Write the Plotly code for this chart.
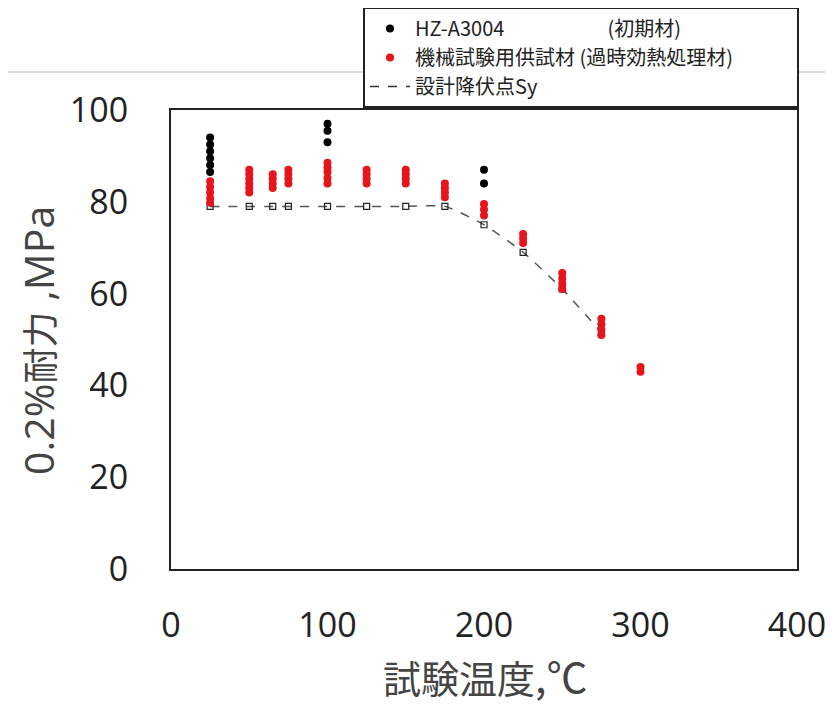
import plotly.graph_objects as go

# HZ-A3004 (initial material)
hz_x = [25, 25, 25, 25, 25, 25, 100, 100, 100, 200, 200]
hz_y = [94, 92.5, 91, 89.5, 88, 86.5, 97, 95.5, 93, 87, 84]

# Aged test material
red_x = [25, 25, 25, 25, 25,
         50, 50, 50, 50, 50, 50,
         65, 65, 65, 65,
         75, 75, 75, 75,
         100, 100, 100, 100, 100,
         125, 125, 125, 125,
         150, 150, 150, 150,
         175, 175, 175, 175,
         200, 200, 200,
         225, 225, 225,
         250, 250, 250, 250,
         275, 275, 275, 275,
         300, 300]
red_y = [84.5, 83.2, 82, 80.8, 79.8,
         87, 86, 85, 84, 83, 82,
         86, 85, 84, 83,
         87, 86, 85, 84,
         88.5, 87.5, 86.5, 85.2, 84,
         87, 86, 85, 84,
         87, 86, 85, 84,
         84, 83, 82, 81,
         79.5, 78.3, 77,
         73, 72, 71,
         64.5, 63.3, 62.2, 61,
         54.5, 53.3, 52.2, 51,
         44, 43]

# Design yield point Sy
sy_x = [25, 50, 65, 75, 100, 125, 150, 175, 200, 225, 250, 275]
sy_y = [79, 79, 79, 79, 79, 79, 79, 79, 75, 69, 61, 51.5]

x_ticks = [0, 100, 200, 300, 400]
y_ticks = [0, 20, 40, 60, 80, 100]

NB = "\u00a0"
name_hz = "HZ-A3004" + NB * 23 + "(初期材)"
name_red = "機械試験用供試材" + NB + "(過時効熱処理材)" + NB * 13
name_sy = "設計降伏点Sy"

jp = "Noto Sans CJK JP"
num = "Open Sans"

OFF = 8  # page body margin in the browser
W, H = 833 - OFF, 704 - OFF
L, R, T, B = 171 - OFF, 797 - OFF, 110 - OFF, 569 - OFF
pw, ph = R - L, B - T


def px(xp):
    return (xp - OFF - L) / pw


def py(yp):
    return (B - (yp - OFF)) / ph


fig = go.Figure()
fig.add_trace(go.Scatter(
    x=sy_x, y=sy_y, mode="lines+markers", showlegend=False,
    line=dict(color="#555555", width=1.5, dash="dash", shape="spline", smoothing=0.6),
    marker=dict(symbol="square-open", size=6, color="#222222", line=dict(width=1.2)),
))
fig.add_trace(go.Scatter(
    x=hz_x, y=hz_y, mode="markers", name=name_hz,
    marker=dict(color="black", size=8, symbol="circle"),
))
fig.add_trace(go.Scatter(
    x=red_x, y=red_y, mode="markers", name=name_red,
    marker=dict(color="#e8141b", size=8, symbol="circle"),
))
fig.add_trace(go.Scatter(
    x=[None], y=[None], mode="lines", name=name_sy,
    line=dict(color="#333333", width=1.5, dash="dash"),
))

ytitle = ('<span style="font-family:Open Sans;font-size:41px">0.2%</span>'
          '耐力'
          '<span style="font-family:Open Sans;font-size:41px"> ,MPa</span>')
xtitle = '試験温度<span style="font-size:41px">,℃</span>'

fig.update_layout(
    width=W, height=H,
    margin=dict(l=L, r=W - R, t=T, b=H - B, autoexpand=False),
    paper_bgcolor="white", plot_bgcolor="white",
    font=dict(family=jp, color="#222222"),
    legend=dict(
        x=px(363), xanchor="left",
        y=py(7), yanchor="top",
        bgcolor="white", bordercolor="#222222", borderwidth=2,
        font=dict(family=jp, size=20, color="#222222"),
        itemwidth=40, tracegroupgap=0,
    ),
    xaxis=dict(
        range=[0, 400], tickvals=x_ticks, ticks="", showgrid=False, zeroline=False,
        showline=True, linecolor="#222222", linewidth=2, mirror=True,
        tickfont=dict(family=num, size=34, color="#222222"),
        ticklabelstandoff=25,
    ),
    yaxis=dict(
        range=[0, 100], tickvals=y_ticks, ticks="", showgrid=False, zeroline=False,
        showline=True, linecolor="#222222", linewidth=2, mirror=True,
        tickfont=dict(family=num, size=34, color="#222222"),
        ticklabelstandoff=34,
    ),
    annotations=[
        dict(text=xtitle, xref="paper", yref="paper",
             x=px(485), y=py(675), xanchor="center", yanchor="middle",
             showarrow=False, font=dict(family=jp, size=38, color="#444444")),
        dict(text=ytitle, xref="paper", yref="paper", textangle=-90,
             x=px(38), y=py(341), xanchor="center", yanchor="middle",
             showarrow=False, font=dict(family=jp, size=36, color="#444444")),
    ],
    shapes=[dict(type="line", xref="paper", yref="paper",
                 x0=px(0), x1=px(833),
                 y0=py(72), y1=py(72),
                 line=dict(color="#bbbbbb", width=1))],
)

fig.write_html("out.html")
